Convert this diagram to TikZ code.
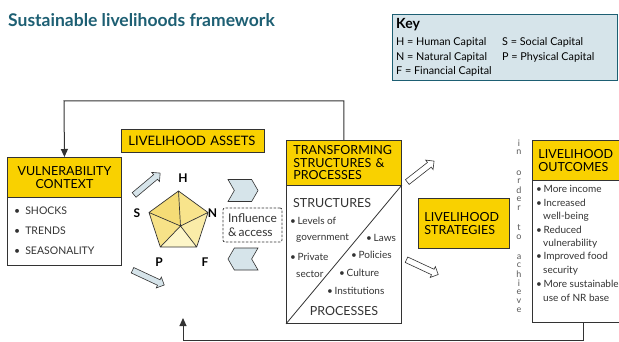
\documentclass[tikz,border=0pt]{standalone}
\usepackage{fontspec}
\setmainfont{Lato}
\usetikzlibrary{positioning, arrows.meta, shapes.arrows, shapes.symbols, calc}

\definecolor{slgold}{HTML}{F9D100}
\definecolor{slteal}{HTML}{1D5F73}
\definecolor{slblue}{HTML}{D6E4EA}
\definecolor{slline}{HTML}{333333}
\definecolor{sltext}{HTML}{333333}

\tikzset{
  hdr/.style={draw=slline, fill=slgold, line width=0.9pt, anchor=north west, inner sep=0pt,
    font=\fontsize{12.5}{13.5}\selectfont},
  bodybox/.style={draw=slline, fill=white, line width=0.9pt, anchor=north west, inner sep=0pt},
  item/.style={anchor=west, inner sep=0pt, text=sltext, font=\fontsize{10}{12}\selectfont},
  keyitem/.style={item, text=black, font=\fontsize{10.8}{12}\selectfont},
  caplbl/.style={inner sep=0pt, font=\bfseries\fontsize{12}{12}\selectfont},
  bluearr/.style={single arrow, draw=slline, fill=slblue, line width=0.6pt, inner xsep=0pt, inner ysep=2.7pt,
    minimum width=12pt, single arrow head extend=3pt, single arrow tip angle=90},
  whitearr/.style={bluearr, fill=white},
  chevron/.style={signal, draw=slline, fill=slblue, line width=0.6pt, inner sep=0pt,
    minimum width=30pt, minimum height=22pt, signal pointer angle=120},
  feedback/.style={draw=slline, line width=1pt, -{Triangle[length=8pt,width=7pt]}}
}

\begin{document}
\begin{tikzpicture}[x=1pt, y=-1pt]
\useasboundingbox[fill=white] (0,0) rectangle (619,342);

% title and key
\node[anchor=west, inner sep=0pt, text=slteal, font=\bfseries\fontsize{17.5}{17.5}\selectfont] (title) at (8,20) {Sustainable livelihoods framework};
\node[draw=slteal, fill=slblue, line width=1.2pt, anchor=north west, minimum width=225pt, minimum height=66pt] (key) at (392,14) {};
\node[anchor=west, inner sep=0pt, font=\bfseries\fontsize{14}{14}\selectfont] (keyttl) at (396,25) {Key};
\node[keyitem] (keyh) at (396,42) {H = Human Capital};
\node[keyitem] (keyn) at (396,57) {N = Natural Capital};
\node[keyitem] (keyf) at (396,71) {F = Financial Capital};
\node[keyitem] (keys) at (502,42) {S = Social Capital};
\node[keyitem] (keyp) at (502,57) {P = Physical Capital};

% vulnerability context
\node[hdr, minimum width=114pt, minimum height=40pt, align=center] (vch) at (7,157) {VULNERABILITY\\CONTEXT};
\node[bodybox, minimum width=114pt, minimum height=68pt] (vcb) at (7,197) {};
\node[item, font=\fontsize{10.5}{12}\selectfont] (vc1) at (14,211) {\textbullet\hspace{5pt}SHOCKS};
\node[item, font=\fontsize{10.5}{12}\selectfont] (vc2) at (14,231) {\textbullet\hspace{5pt}TRENDS};
\node[item, font=\fontsize{10.5}{12}\selectfont] (vc3) at (14,251) {\textbullet\hspace{5pt}SEASONALITY};

% livelihood assets
\node[hdr, minimum width=143pt, minimum height=23pt, text width=129pt, inner xsep=7pt, align=left, font=\fontsize{13}{13}\selectfont] (la) at (121,129) {LIVELIHOOD ASSETS};

\coordinate (pH) at (178.5,191);
\coordinate (pN) at (208,212.5);
\coordinate (pF) at (196.7,247);
\coordinate (pP) at (160.3,247);
\coordinate (pS) at (149,212.5);
\coordinate (pc) at (180.5,226);
\fill[fill={rgb,255:red,245;green,220;blue,118}] (pc) -- (pS) -- (pH) -- cycle;
\fill[fill={rgb,255:red,248;green,228;blue,140}] (pc) -- (pH) -- (pN) -- cycle;
\fill[fill={rgb,255:red,250;green,236;blue,168}] (pc) -- (pN) -- (pF) -- cycle;
\fill[fill={rgb,255:red,253;green,246;blue,200}] (pc) -- (pF) -- (pP) -- cycle;
\fill[fill={rgb,255:red,247;green,226;blue,136}] (pc) -- (pP) -- (pS) -- cycle;
\draw[slline, line width=0.7pt, line join=round] (pH) -- (pN) -- (pF) -- (pP) -- (pS) -- cycle
  (pc) -- (pH) (pc) -- (pN) (pc) -- (pF) (pc) -- (pP) (pc) -- (pS);
\node[caplbl] (lblh) at (183,178) {H};
\node[caplbl] (lbls) at (137,213) {S};
\node[caplbl] (lbln) at (212.5,213) {N};
\node[caplbl] (lblp) at (159,262) {P};
\node[caplbl] (lblf) at (205,262) {F};

\node[bluearr, minimum height=34pt, rotate=40] (arrup) at (146,185) {};
\node[bluearr, minimum height=35pt, rotate=-25] (arrdn) at (147,277) {};

% influence and access
\node[chevron, signal to=east, signal from=west] (chin) at (243,190.5) {};
\node[chevron, signal to=west, signal from=east] (chout) at (243,259) {};
\node[draw=slline, dash pattern=on 2.5pt off 1.5pt, line width=0.7pt, rounded corners=2pt, minimum width=59pt, minimum height=34pt, inner sep=0pt, align=left, text=sltext, font=\fontsize{12}{13.5}\selectfont] (infl) at (252.5,225) {Influence\\\&\,access};

% transforming structures and processes
\node[hdr, minimum width=115pt, minimum height=45pt, text width=101pt, inner xsep=7pt, align=left, font=\fontsize{12.5}{12.5}\selectfont] (tsh) at (286,140) {TRANSFORMING\\STRUCTURES \&\\PROCESSES};
\node[bodybox, minimum width=115pt, minimum height=138pt] (tsb) at (286,185) {};
\draw[slline, line width=0.8pt] (tsb.south west) -- (tsb.north east);
\node[item, font=\fontsize{12.5}{12}\selectfont] (tsstr) at (293,203) {STRUCTURES};
\node[item] (ts1) at (290,221) {\textbullet\,Levels of};
\node[item] (ts1b) at (296,238) {government};
\node[item] (ts2) at (290,257) {\textbullet\,Private};
\node[item] (ts2b) at (296,274) {sector};
\node[item] (ts3) at (366,238) {\textbullet\,Laws};
\node[item] (ts4) at (351,255) {\textbullet\,Policies};
\node[item] (ts5) at (339,273) {\textbullet\,Culture};
\node[item] (ts6) at (327,291) {\textbullet\,Institutions};
\node[item, anchor=center, font=\fontsize{12.5}{12}\selectfont] (tspro) at (344,311) {PROCESSES};

\node[whitearr, minimum height=34pt, rotate=38] (stratup) at (419.5,172.5) {};
\node[whitearr, minimum height=35pt, rotate=-25] (stratdn) at (421,266.5) {};

% livelihood strategies
\node[hdr, minimum width=91pt, minimum height=50pt, text width=79pt, inner xsep=6pt, align=left, font=\fontsize{12.5}{13.5}\selectfont] (ls) at (418,198) {LIVELIHOOD\\STRATEGIES};

\foreach \c/\y [count=\k] in {i/143, n/152, o/173, r/181, d/190, e/199, r/208, t/228, o/237, a/257, c/265, h/274, i/283, e/292, v/301, e/310}
  \node[inner sep=0pt, text=black!65, font=\fontsize{9}{9}\selectfont] (ach\k) at (519,\y) {\c};

% livelihood outcomes
\node[hdr, minimum width=102pt, minimum height=40pt, text width=90pt, inner xsep=6pt, align=left, font=\fontsize{12.5}{13.5}\selectfont] (loh) at (532,140) {LIVELIHOOD\\OUTCOMES};
\node[bodybox, minimum width=102pt, minimum height=142pt] (lob) at (532,180) {};
\node[item] (lo1) at (536,189) {\textbullet\,More income};
\node[item] (lo2) at (536,203) {\textbullet\,Increased};
\node[item] (lo2b) at (543,217) {well-being};
\node[item] (lo3) at (536,230) {\textbullet\,Reduced};
\node[item] (lo3b) at (543,244) {vulnerability};
\node[item] (lo4) at (536,257) {\textbullet\,Improved food};
\node[item] (lo4b) at (543,271) {security};
\node[item] (lo5) at (536,284) {\textbullet\,More sustainable};
\node[item] (lo5b) at (543,298) {use of NR base};

% feedback lines
\coordinate (fbtop) at (64,101);
\coordinate (fbend) at (183,318);
\draw[feedback] (tsh.north) |- (fbtop) -- (vch.north);
\draw[feedback] (lob.south) |- ($(fbend)+(0,22)$) -- (fbend);
\end{tikzpicture}
\end{document}
